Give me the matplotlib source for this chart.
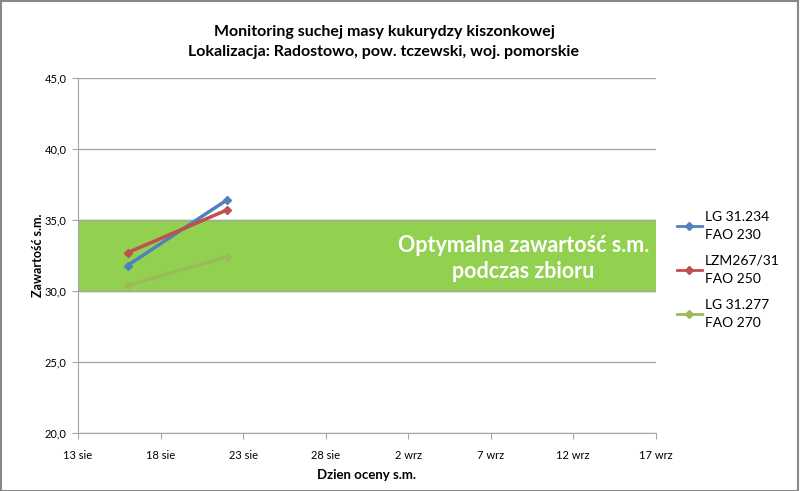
from datetime import date, timedelta

import matplotlib
matplotlib.use("Agg")
import matplotlib.dates as mdates
import matplotlib.pyplot as plt
from matplotlib.patches import Rectangle

# dates of the sampling and dry matter content (%)
sample_dates = [date(2013, 8, 16), date(2013, 8, 22)]
lg_31234 = [31.8, 36.4]
lzm_267 = [32.7, 35.7]
lg_31277 = [30.4, 32.4]

series_labels = ["LG 31.234\nFAO 230", "LZM267/31\nFAO 250", "LG 31.277\nFAO 270"]
series_colors = ["#4F81BD", "#C0504D", "#9BBB59"]

optimum_low, optimum_high = 30.0, 35.0
x_start, x_end = date(2013, 8, 13), date(2013, 9, 17)
month_pl = {8: "sie", 9: "wrz"}

plt.rcParams["font.family"] = ["Lato", "DejaVu Sans"]

fig = plt.figure(figsize=(8, 4.91), dpi=100)
ax = fig.add_axes([0.0975, 0.118, 0.722, 0.723])

ax.axhspan(optimum_low, optimum_high, color="#92D050", zorder=1)
band_x = mdates.date2num(date(2013, 9, 9))
ax.text(band_x, 33.2, "Optymalna zawartość s.m.",
        color="white", fontsize=15.5, fontweight="bold", ha="center", va="center", zorder=2)
ax.text(band_x, 31.4, "podczas zbioru",
        color="white", fontsize=15.5, fontweight="bold", ha="center", va="center", zorder=2)

for vals, lab, col in zip([lg_31234, lzm_267, lg_31277], series_labels, series_colors):
    ax.plot(sample_dates, vals, color=col, lw=2.5, marker="D", ms=4, label=lab, zorder=3)

ax.set_ylim(20, 45)
ax.set_yticks(range(20, 46, 5))
ax.set_yticklabels([f"{v},0" for v in range(20, 46, 5)], fontsize=8)
ax.set_xlim(mdates.date2num(x_start), mdates.date2num(x_end))
ticks = [x_start + timedelta(days=5 * i) for i in range(8)]
ax.set_xticks([mdates.date2num(t) for t in ticks])
ax.set_xticklabels([f"{t.day} {month_pl[t.month]}" for t in ticks], fontsize=8)

ax.grid(axis="y", color="#A6A6A6", lw=1, zorder=0)
for side in ["top", "right"]:
    ax.spines[side].set_visible(False)
for side in ["left", "bottom"]:
    ax.spines[side].set_color("#A6A6A6")
ax.tick_params(colors="#A6A6A6", labelcolor="black", length=4)
ax.tick_params(axis="x", pad=8)
ax.tick_params(axis="y", pad=4)

ax.set_xlabel("Dzien oceny s.m.", fontsize=9.5, fontweight="bold", labelpad=6)
ax.set_ylabel("Zawartość s.m.", fontsize=9, fontweight="bold", labelpad=1)

fig.text(0.48, 0.935, "Monitoring suchej masy kukurydzy kiszonkowej",
         ha="center", va="center", fontsize=11.5, fontweight="bold")
fig.text(0.48, 0.895, "Lokalizacja: Radostowo, pow. tczewski, woj. pomorskie",
         ha="center", va="center", fontsize=11.5, fontweight="bold")

leg = ax.legend(loc="center left", bbox_to_anchor=(1.015, 0.46), frameon=False,
                fontsize=10, handlelength=1.8, labelspacing=1.0, handletextpad=0.2)
for t in leg.get_texts():
    t.set_linespacing(1.6)
for h in leg.get_lines():
    h.set_linewidth(2)

fig.patches.append(Rectangle((0.001, 0.001), 0.997, 0.997, transform=fig.transFigure,
                             fill=False, edgecolor="#888888", lw=1.5))

fig.savefig("out.png", dpi=100)
